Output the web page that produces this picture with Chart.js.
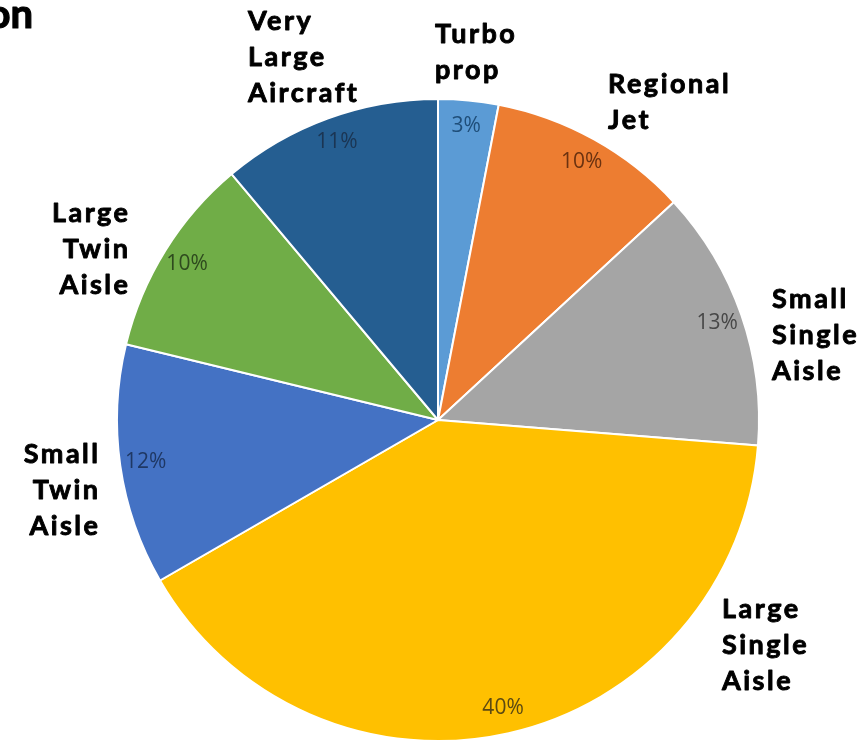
<!DOCTYPE html>
<html>
<head>
<meta charset="utf-8">
<script src="https://cdn.jsdelivr.net/npm/chart.js@4"></script>
<style>
  html, body { margin: 0; padding: 0; background: #fff; }
  canvas { display: block; }
</style>
</head>
<body>
<canvas id="fleetPie" width="865" height="742"></canvas>
<script>
// Data
const categories = ["Turbo prop", "Regional Jet", "Small Single Aisle", "Large Single Aisle",
                    "Small Twin Aisle", "Large Twin Aisle", "Very Large Aircraft"];
const shares = [3, 10, 13, 40, 12, 10, 11];
const titleFragment = "on";

// Styling
const sliceColors = ["#5B9BD5", "#ED7D31", "#A5A5A5", "#FFC000", "#4472C4", "#70AD47", "#255E91"];
const valueColors = ["#1F4E79", "#6B3210", "#474747", "#5C4A12", "#1F3864", "#2E4A1E", "#1B3553"];

// where the category text boxes sit (left or right edge, first baseline)
const labelBoxes = [
  { x: 435, y: 43, align: "left" },
  { x: 608, y: 93, align: "left" },
  { x: 772, y: 308, align: "left" },
  { x: 722, y: 618, align: "left" },
  { x: 98, y: 463, align: "right" },
  { x: 128, y: 222, align: "right" },
  { x: 248, y: 30, align: "left" },
];
const lineGap = 36;
const spacing = 2.5;

const labelPlugin = {
  id: "pieLabels",
  afterDatasetsDraw(chart) {
    const ctx = chart.ctx;
    const arcs = chart.getDatasetMeta(0).data;

    // percentages inside the slices
    ctx.save();
    ctx.font = "21px 'Open Sans'";
    ctx.textAlign = "center";
    ctx.textBaseline = "middle";
    arcs.forEach((arc, i) => {
      const p = arc.getProps(["x", "y", "startAngle", "endAngle", "outerRadius"], true);
      const mid = (p.startAngle + p.endAngle) / 2;
      const r = p.outerRadius * 0.92;
      ctx.fillStyle = valueColors[i];
      ctx.fillText(shares[i] + "%", p.x + Math.cos(mid) * r, p.y + Math.sin(mid) * r);
    });
    ctx.restore();

    // category names outside, a thin stroke makes them heavier
    ctx.save();
    ctx.font = "bold 27px Lato";
    ctx.letterSpacing = spacing + "px";
    ctx.fillStyle = "#000";
    ctx.strokeStyle = "#000";
    ctx.lineWidth = 0.9;
    ctx.lineJoin = "round";
    ctx.textBaseline = "alphabetic";
    categories.forEach((name, i) => {
      const box = labelBoxes[i];
      ctx.textAlign = box.align;
      const shift = box.align === "right" ? spacing : 0;
      name.split(" ").forEach((word, j) => {
        ctx.fillText(word, box.x + shift, box.y + j * lineGap);
        ctx.strokeText(word, box.x + shift, box.y + j * lineGap);
      });
    });

    // cut-off title in the corner
    ctx.font = "bold 40px Lato";
    ctx.letterSpacing = "0px";
    ctx.lineWidth = 1.2;
    ctx.textAlign = "right";
    ctx.fillText(titleFragment, 33, 28);
    ctx.strokeText(titleFragment, 33, 28);
    ctx.restore();
  },
};

const ctx = document.getElementById("fleetPie").getContext("2d");

const fleetPie = new Chart(ctx, {
  type: "pie",
  data: {
    labels: categories,
    datasets: [
      {
        data: shares,
        backgroundColor: sliceColors,
        borderColor: "#ffffff",
        borderWidth: 2,
      },
    ],
  },
  options: {
    responsive: false,
    animation: false,
    layout: {
      padding: { top: 98, bottom: 0, left: 116, right: 105 },
    },
    plugins: {
      legend: { display: false },
      tooltip: { enabled: false },
    },
  },
  plugins: [labelPlugin],
});
</script>
</body>
</html>
